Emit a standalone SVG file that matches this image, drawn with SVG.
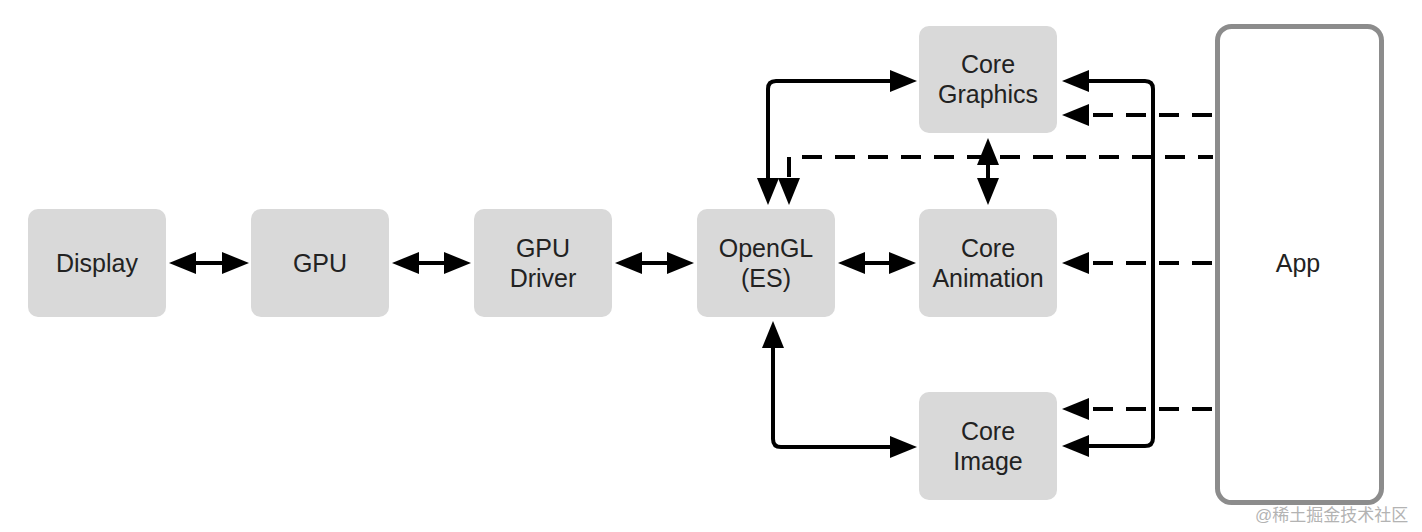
<svg xmlns="http://www.w3.org/2000/svg" width="1422" height="532" viewBox="0 0 1422 532">
<defs>
<marker id="ah" markerUnits="userSpaceOnUse" markerWidth="28" markerHeight="22" refX="17" refY="11" orient="auto-start-reverse" overflow="visible">
<path d="M0,0 L27,11 L0,22 Z" fill="#000"/>
</marker>
<style>
.box{fill:#d9d9d9;}
.lbl{font-family:"Liberation Sans",Arial,Helvetica,sans-serif;font-size:25px;fill:#222;text-anchor:middle;}
.c{fill:none;stroke:#000;stroke-width:4;}
.d{fill:none;stroke:#000;stroke-width:4;stroke-dasharray:20 13;}
.one{marker-end:url(#ah);}
.two{marker-start:url(#ah);marker-end:url(#ah);}
</style>
</defs>
<rect width="1422" height="532" fill="#fff"/>
<g id="connectors">
<path class="c two" d="M179,263 H239"/>
<path class="c two" d="M402,263 H461"/>
<path class="c two" d="M625,263 H684"/>
<path class="c two" d="M848,263 H906"/>
<path class="c two" d="M768,195 V89 Q768,81 776,81 H907"/>
<path class="d one" style="stroke-dashoffset:5" d="M1213,157 H789 V195"/>
<path class="c two" d="M988,148 V195"/>
<path class="c two" d="M773,331 V439 Q773,447 781,447 H907"/>
<path class="c two" d="M1072,81 H1145 Q1153,81 1153,89 V438 Q1153,446 1145,446 H1072"/>
<path class="d one" d="M1212,115 H1072"/>
<path class="d one" d="M1212,263 H1072"/>
<path class="d one" d="M1212,409 H1072"/>
</g>
<g id="display"><rect class="box" x="28" y="209" width="138" height="108" rx="10"/><text class="lbl" x="97" y="272">Display</text></g>
<g id="gpu"><rect class="box" x="251" y="209" width="138" height="108" rx="10"/><text class="lbl" x="320" y="272">GPU</text></g>
<g id="gpu-driver"><rect class="box" x="474" y="209" width="138" height="108" rx="10"/><text class="lbl" x="543" y="256.5">GPU</text><text class="lbl" x="543" y="286.5">Driver</text></g>
<g id="opengl"><rect class="box" x="697" y="209" width="138" height="108" rx="10"/><text class="lbl" x="766" y="256.5">OpenGL</text><text class="lbl" x="766" y="286.5">(ES)</text></g>
<g id="core-animation"><rect class="box" x="919" y="209" width="138" height="108" rx="10"/><text class="lbl" x="988" y="256.5">Core</text><text class="lbl" x="988" y="286.5">Animation</text></g>
<g id="core-graphics"><rect class="box" x="919" y="26" width="138" height="107" rx="10"/><text class="lbl" x="988" y="73">Core</text><text class="lbl" x="988" y="103">Graphics</text></g>
<g id="core-image"><rect class="box" x="919" y="392" width="138" height="108" rx="10"/><text class="lbl" x="988" y="439.5">Core</text><text class="lbl" x="988" y="469.5">Image</text></g>
<g id="app"><rect x="1217.5" y="26.5" width="164" height="476" rx="14" fill="#fff" stroke="#8c8c8c" stroke-width="5"/><text class="lbl" x="1298" y="272">App</text></g>
<text x="1255" y="521" font-family="'Liberation Sans','Noto Sans CJK SC',sans-serif" font-size="17" fill="#b3b3b3">@稀土掘金技术社区</text>
</svg>
